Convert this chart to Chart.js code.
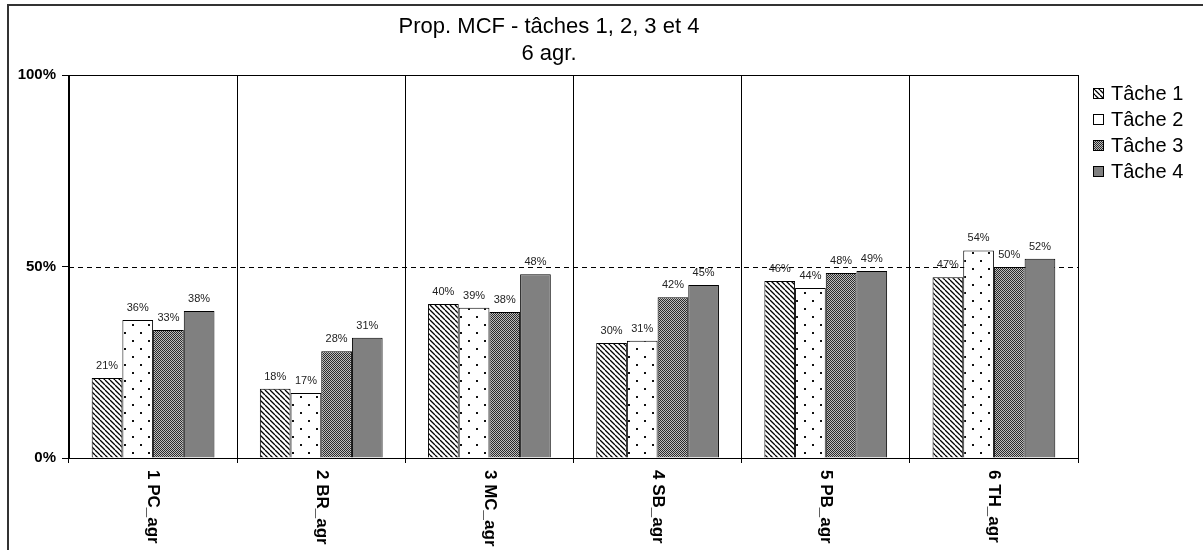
<!DOCTYPE html>
<html>
<head>
<meta charset="utf-8">
<script src="https://cdn.jsdelivr.net/npm/chart.js@4.4.0/dist/chart.umd.min.js"></script>
<style>
    body { margin: 0; background: #fff; }
    #wrap { width: 1203px; height: 550px; }
</style>
</head>
<body>
<div id="wrap"><canvas id="chart" width="1203" height="550"></canvas></div>
<script>
// Chart data
const categories = ['1 PC_agr', '2 BR_agr', '3 MC_agr', '4 SB_agr', '5 PB_agr', '6 TH_agr'];
const seriesNames = ['Tâche 1', 'Tâche 2', 'Tâche 3', 'Tâche 4'];
const tache1 = [20.9, 18.1, 40.2, 30.0, 46.2, 47.2];
const tache2 = [36.0, 17.0, 39.2, 30.6, 44.4, 54.2];
const tache3 = [33.4, 27.9, 38.1, 42.0, 48.3, 49.9];
const tache4 = [38.4, 31.4, 48.0, 45.2, 48.8, 52.0];
const yTicks = [0, 50, 100];
const titleLines = ['Prop. MCF - tâches 1, 2, 3 et 4', '6 agr.'];

// Fill patterns like the old Excel ones
function makeTile(size, draw) {
    const c = document.createElement('canvas');
    c.width = size; c.height = size;
    const g = c.getContext('2d');
    draw(g, size);
    return document.getElementById('chart').getContext('2d').createPattern(c, 'repeat');
}

const stripes = makeTile(5, function (g, s) {
    g.fillStyle = '#fff'; g.fillRect(0, 0, s, s);
    g.strokeStyle = '#000'; g.lineWidth = 1.3;
    g.beginPath();
    g.moveTo(0, 0); g.lineTo(s, s);
    g.moveTo(-s, 0); g.lineTo(0, s);
    g.moveTo(s, 0); g.lineTo(2 * s, s);
    g.stroke();
});
const dots = makeTile(16, function (g, s) {
    g.fillStyle = '#fff'; g.fillRect(0, 0, s, s);
    g.fillStyle = '#111';
    g.fillRect(4, 4, 2, 2);
    g.fillRect(12, 12, 2, 2);
});
const checker = makeTile(2, function (g, s) {
    g.fillStyle = '#bdbdbd'; g.fillRect(0, 0, s, s);
    g.fillStyle = '#2a2a2a';
    g.fillRect(0, 0, 1, 1);
    g.fillRect(1, 1, 1, 1);
});
const fills = [stripes, dots, checker, '#808080'];
const seriesData = [tache1, tache2, tache3, tache4];

// Percent labels over the bars
const valueLabels = {
    id: 'valueLabels',
    afterDatasetsDraw(chart) {
        const ctx = chart.ctx;
        ctx.save();
        ctx.font = '11px Arial';
        ctx.fillStyle = '#222';
        ctx.textAlign = 'center';
        ctx.textBaseline = 'alphabetic';
        chart.data.datasets.forEach(function (ds, i) {
            chart.getDatasetMeta(i).data.forEach(function (bar, j) {
                ctx.fillText(Math.round(ds.data[j]) + '%', bar.x, bar.y - 9);
            });
        });
        ctx.restore();
    }
};

// Dashed 50% line, frame, title, legend, rotated category names
const decorations = {
    id: 'decorations',
    beforeDatasetsDraw(chart) {
        const ctx = chart.ctx, a = chart.chartArea;
        const y = chart.scales.y.getPixelForValue(50);
        ctx.save();
        ctx.strokeStyle = '#000';
        ctx.lineWidth = 1;
        ctx.setLineDash([5, 4]);
        ctx.beginPath();
        ctx.moveTo(a.left, Math.round(y) + 0.5);
        ctx.lineTo(a.right, Math.round(y) + 0.5);
        ctx.stroke();
        ctx.restore();
    },
    afterDraw(chart) {
        const ctx = chart.ctx, a = chart.chartArea;
        ctx.save();
        // plot box
        ctx.strokeStyle = '#000';
        ctx.lineWidth = 1;
        ctx.strokeRect(a.left + 0.5, a.top + 0.5, a.right - a.left, a.bottom - a.top);
        // outer frame (only top and left visible)
        ctx.strokeStyle = '#333';
        ctx.lineWidth = 2;
        ctx.beginPath();
        ctx.moveTo(8, 550); ctx.lineTo(8, 5); ctx.lineTo(1203, 5);
        ctx.stroke();

        // title
        ctx.fillStyle = '#000';
        ctx.font = '22px Arial';
        ctx.textAlign = 'center';
        ctx.textBaseline = 'alphabetic';
        ctx.fillText(titleLines[0], 549, 33);
        ctx.fillText(titleLines[1], 549, 60);

        // legend
        ctx.textAlign = 'left';
        ctx.textBaseline = 'middle';
        ctx.font = '20px Arial';
        chart.data.datasets.forEach(function (ds, i) {
            const cy = 93 + i * 26;
            ctx.fillStyle = ds.backgroundColor;
            ctx.fillRect(1093, cy - 5, 10, 10);
            ctx.strokeStyle = '#000';
            ctx.lineWidth = 1;
            ctx.strokeRect(1093.5, cy - 4.5, 10, 10);
            ctx.fillStyle = '#000';
            ctx.fillText(ds.label, 1111, cy + 1);
        });

        // category names, read top to bottom
        const xs = chart.scales.x;
        ctx.font = 'bold 17px Arial';
        categories.forEach(function (c, i) {
            ctx.save();
            ctx.translate(xs.getPixelForValue(i), xs.top + 12);
            ctx.rotate(Math.PI / 2);
            ctx.fillText(c, 0, 0);
            ctx.restore();
        });
        ctx.restore();
    }
};

const chart = new Chart(document.getElementById('chart'), {
    type: 'bar',
    data: {
        labels: categories,
        datasets: seriesNames.map(function (name, i) {
            return {
                label: name,
                data: seriesData[i],
                backgroundColor: fills[i],
                borderColor: '#000',
                borderWidth: 1,
                borderSkipped: 'bottom',
                categoryPercentage: 0.73,
                barPercentage: 1.0
            };
        })
    },
    options: {
        responsive: false,
        animation: false,
        devicePixelRatio: 1,
        layout: { padding: { top: 75, right: 125, left: 0, bottom: 0 } },
        plugins: {
            legend: { display: false },
            title: { display: false },
            tooltip: { enabled: false }
        },
        scales: {
            x: {
                grid: { color: '#000', lineWidth: 1, offset: true, drawTicks: true, tickLength: 5 },
                border: { display: true, color: '#000' },
                ticks: { display: false },
                afterFit: function (scale) { scale.height = 92; }
            },
            y: {
                min: 0,
                max: 100,
                afterBuildTicks: function (scale) {
                    scale.ticks = yTicks.map(function (v) { return { value: v }; });
                },
                grid: { drawOnChartArea: false, drawTicks: true, tickLength: 7, color: '#000' },
                border: { display: true, color: '#000' },
                ticks: {
                    color: '#000',
                    padding: 6,
                    font: { family: 'Arial', size: 15, weight: 'bold' },
                    callback: function (v) { return v + '%'; }
                },
                afterFit: function (scale) { scale.width = 69; }
            }
        }
    },
    plugins: [valueLabels, decorations]
});
</script>
</body>
</html>
